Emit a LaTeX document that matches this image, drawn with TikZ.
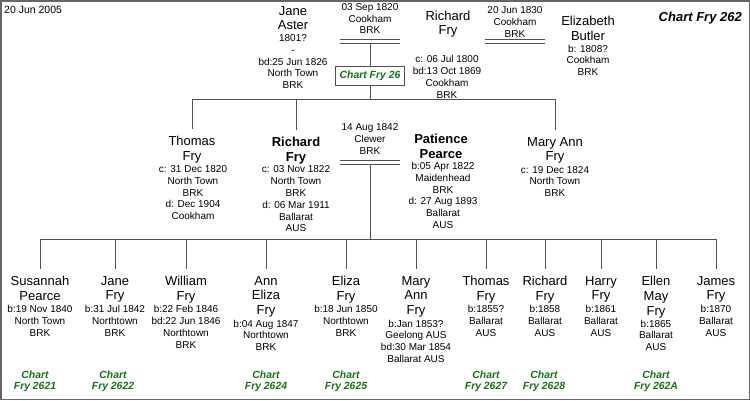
\documentclass[tikz,border=0pt]{standalone}
\usepackage{fontspec}
\setmainfont{Liberation Sans}
\usepackage{tikz}

\definecolor{chartgreen}{RGB}{22,112,22}
\definecolor{linegray}{RGB}{80,80,80}

\tikzset{
  pname/.style={align=center,inner sep=0pt,anchor=north,font=\fontsize{13}{14.7}\selectfont},
  pbold/.style={pname,font=\fontsize{13}{14.7}\selectfont\bfseries},
  pinfo/.style={align=center,inner sep=0pt,anchor=north,font=\fontsize{10}{11.8}\selectfont},
  chartref/.style={align=center,inner sep=0pt,anchor=north,text=chartgreen,
    font=\fontsize{10.4}{11.4}\selectfont\bfseries\itshape},
  link/.style={draw=linegray,line width=0.8pt},
  drop/.style={link,shorten >=7pt},
}

\begin{document}
\begin{tikzpicture}[x=1pt,y=-1pt]
\useasboundingbox (0,0) rectangle (750,400);
\draw [draw=black!60,line width=1.5pt] (0.75,0.75) rectangle (749.25,399.25);

\node [pinfo,anchor=north west,font=\fontsize{10.5}{12}\selectfont] (today) at (4,5.5) {20 Jun 2005};
\node [anchor=north east,inner sep=0pt,font=\fontsize{13}{15}\selectfont\bfseries\itshape] (title) at (742,12) {Chart Fry 262};

% parents of Richard
\node [pname] (jane) at (293,6) {Jane\\Aster};
\node [pinfo] (janeI) at (293,34.4) {1801?\\-\\bd:25 Jun 1826\\North Town\\BRK};
\node [pinfo] (wed1) at (370,3.1) {03 Sep 1820\\Cookham\\BRK};
\node [pname] (rich) at (448,10.4) {Richard\\Fry};
\node [pinfo] (richI) at (447,55.4) {c: 06 Jul 1800\\bd:13 Oct 1869\\Cookham\\BRK};
\node [pinfo] (wed2) at (515,6.4) {20 Jun 1830\\Cookham\\BRK};
\node [pname] (eliz) at (588,16) {Elizabeth\\Butler};
\node [pinfo] (elizI) at (588,44.7) {b: 1808?\\Cookham\\BRK};

\coordinate (m1) at (370,43.5);
\coordinate (m2) at (515,43.5);
\draw [link] ([xshift=-30pt]m1) -- ([xshift=30pt]m1) ([shift={(-30pt,4pt)}]m1) -- ([shift={(30pt,4pt)}]m1);
\draw [link] ([xshift=-30pt]m2) -- ([xshift=30pt]m2) ([shift={(-30pt,4pt)}]m2) -- ([shift={(30pt,4pt)}]m2);

\node [draw=linegray,line width=0.8pt,fill=white,inner xsep=4pt,minimum height=19pt,text=chartgreen,
  font=\fontsize{10.4}{12}\selectfont\bfseries\itshape] (c26) at (370,75.5) {Chart Fry 26};
\coordinate (bar1) at (370,99);
\draw [link] (m1) -- (c26);
\draw [link] (c26) -- (bar1);

% second generation
\node [pname] (thomas) at (192,136) {Thomas\\Fry};
\node [pinfo] (thomasI) at (193,165.4) {c: 31 Dec 1820\\North Town\\BRK\\d: Dec 1904\\Cookham};
\node [pbold] (richard) at (296,137) {Richard\\Fry};
\node [pinfo] (richardI) at (296,165.7) {c: 03 Nov 1822\\North Town\\BRK\\d: 06 Mar 1911\\Ballarat\\AUS};
\node [pinfo] (wed3) at (370,123.7) {14 Aug 1842\\Clewer\\BRK};
\node [pbold] (patience) at (441,133.7) {Patience\\Pearce};
\node [pinfo] (patienceI) at (443,162) {b:05 Apr 1822\\Maidenhead\\BRK\\d: 27 Aug 1893\\Ballarat\\AUS};
\node [pname] (maryann) at (555,137) {Mary Ann\\Fry};
\node [pinfo] (maryannI) at (555,166) {c: 19 Dec 1824\\North Town\\BRK};

\draw [link] (thomas |- bar1) -- (maryann |- bar1);
\draw [drop] (thomas |- bar1) -- (thomas.north);
\draw [drop] (richard |- bar1) -- (richard.north);
\draw [drop] (maryann |- bar1) -- (maryann.north);

\coordinate (m3) at (370,164);
\draw [link] ([xshift=-30pt]m3) -- ([xshift=30pt]m3) ([shift={(-30pt,3.5pt)}]m3) -- ([shift={(30pt,3.5pt)}]m3);
\coordinate (bar2) at (370,239);
\draw [link] (m3) -- (bar2);

% children
\node [pname] (susannah) at (40,276) {Susannah\\Pearce};
\node [pinfo] (susannahI) at (40,305.4) {b:19 Nov 1840\\North Town\\BRK};
\node [chartref] (c2621) at (35,370.6) {Chart\\Fry 2621};

\node [pname] (janef) at (115,276) {Jane\\Fry};
\node [pinfo] (janefI) at (115,305.4) {b:31 Jul 1842\\Northtown\\BRK};
\node [chartref] (c2622) at (113,370.6) {Chart\\Fry 2622};

\node [pname] (william) at (186,276) {William\\Fry};
\node [pinfo] (williamI) at (186,305.4) {b:22 Feb 1846\\bd:22 Jun 1846\\Northtown\\BRK};

\node [pname] (anneliza) at (266,276) {Ann\\Eliza\\Fry};
\node [pinfo] (annelizaI) at (266,319.7) {b:04 Aug 1847\\Northtown\\BRK};
\node [chartref] (c2624) at (266,370.6) {Chart\\Fry 2624};

\node [pname] (eliza) at (346,276) {Eliza\\Fry};
\node [pinfo] (elizaI) at (346,305.4) {b:18 Jun 1850\\Northtown\\BRK};
\node [chartref] (c2625) at (346,370.6) {Chart\\Fry 2625};

\node [pname] (maryann3) at (416,276) {Mary\\Ann\\Fry};
\node [pinfo] (maryann3I) at (416,319.7) {b:Jan 1853?\\Geelong AUS\\bd:30 Mar 1854\\Ballarat AUS};

\node [pname] (thomas3) at (486,276) {Thomas\\Fry};
\node [pinfo] (thomas3I) at (486,305.4) {b:1855?\\Ballarat\\AUS};
\node [chartref] (c2627) at (486,370.6) {Chart\\Fry 2627};

\node [pname] (richard3) at (545,276) {Richard\\Fry};
\node [pinfo] (richard3I) at (545,305.4) {b:1858\\Ballarat\\AUS};
\node [chartref] (c2628) at (544,370.6) {Chart\\Fry 2628};

\node [pname] (harry) at (601,276) {Harry\\Fry};
\node [pinfo] (harryI) at (601,305.4) {b:1861\\Ballarat\\AUS};

\node [pname] (ellen) at (656,276) {Ellen\\May\\Fry};
\node [pinfo] (ellenI) at (656,319.7) {b:1865\\Ballarat\\AUS};
\node [chartref] (c262A) at (656,370.6) {Chart\\Fry 262A};

\node [pname] (james) at (716,276) {James\\Fry};
\node [pinfo] (jamesI) at (716,305.4) {b:1870\\Ballarat\\AUS};

\draw [link] (susannah |- bar2) -- (james |- bar2);
\draw [drop] (susannah |- bar2) -- (susannah.north);
\draw [drop] (janef |- bar2) -- (janef.north);
\draw [drop] (william |- bar2) -- (william.north);
\draw [drop] (anneliza |- bar2) -- (anneliza.north);
\draw [drop] (eliza |- bar2) -- (eliza.north);
\draw [drop] (maryann3 |- bar2) -- (maryann3.north);
\draw [drop] (thomas3 |- bar2) -- (thomas3.north);
\draw [drop] (richard3 |- bar2) -- (richard3.north);
\draw [drop] (harry |- bar2) -- (harry.north);
\draw [drop] (ellen |- bar2) -- (ellen.north);
\draw [drop] (james |- bar2) -- (james.north);
\end{tikzpicture}
\end{document}
